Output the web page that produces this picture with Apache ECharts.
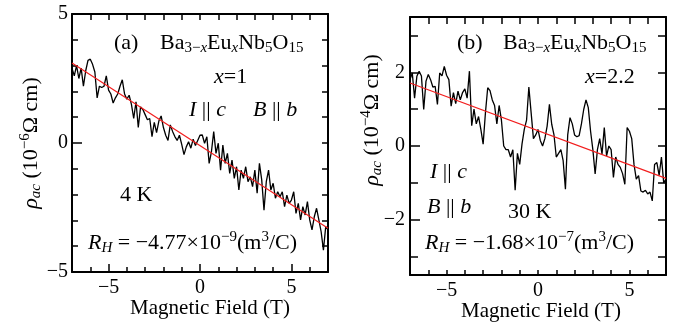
<!DOCTYPE html>
<html>
<head>
<meta charset="utf-8">
<script src="https://cdn.jsdelivr.net/npm/echarts@6/dist/echarts.min.js"></script>
<style>
  html, body { margin: 0; padding: 0; background: #fff; }
  #chart { width: 673px; height: 328px; }
</style>
</head>
<body>
<div id="chart"></div>
<script>
// magnetic field sweep (T), shared by both panels
const field = [
  -7, -6.875, -6.75, -6.625, -6.5, -6.375, -6.25, -6.125,
  -6, -5.875, -5.75, -5.625, -5.5, -5.375, -5.25, -5.125,
  -5, -4.875, -4.75, -4.625, -4.5, -4.375, -4.25, -4.125,
  -4, -3.875, -3.75, -3.625, -3.5, -3.375, -3.25, -3.125,
  -3, -2.875, -2.75, -2.625, -2.5, -2.375, -2.25, -2.125,
  -2, -1.875, -1.75, -1.625, -1.5, -1.375, -1.25, -1.125,
  -1, -0.875, -0.75, -0.625, -0.5, -0.375, -0.25, -0.125,
  0, 0.125, 0.25, 0.375, 0.5, 0.625, 0.75, 0.875,
  1, 1.125, 1.25, 1.375, 1.5, 1.625, 1.75, 1.875,
  2, 2.125, 2.25, 2.375, 2.5, 2.625, 2.75, 2.875,
  3, 3.125, 3.25, 3.375, 3.5, 3.625, 3.75, 3.875,
  4, 4.125, 4.25, 4.375, 4.5, 4.625, 4.75, 4.875,
  5, 5.125, 5.25, 5.375, 5.5, 5.625, 5.75, 5.875,
  6, 6.125, 6.25, 6.375, 6.5, 6.625, 6.75, 6.875,
  7
]

// (a) x=1, 4 K, rho_ac in 1e-6 ohm cm
const rhoA = [
  2.9, 2.6, 3.0, 2.5, 2.9, 2.2, 2.8, 3.2,
  3.25, 3.05, 2.75, 1.75, 2.2, 2.15, 2.2, 2.6,
  2.05, 1.9, 1.55, 1.75, 1.9, 2.2, 2.45, 1.9,
  1.7, 1.85, 1.5, 0.95, 1.6, 0.6, 1.4, 1.3,
  1.1, 0.9, 0.95, 0.25, 0.8, 0.4, 0.85, 1.05,
  0.6, 0.3, 0.1, 0.7, 0.45, 0.25, 0.1, 0.3,
  -0.05, -0.45, -0.15, 0.05, -0.2, 0.15, -0.1, 0.1,
  0.3, 0.31, -0.01, 0.24, -0.79, -0.34, 0.44, -0.4,
  -0.01, -1.05, -0.08, -0.79, -0.4, -1.18, -0.66, -1.37,
  -0.92, -1.82, -1.05, -1.37, -0.92, -1.5, -1.31, -1.69,
  -1.05, -1.95, -0.79, -1.43, -2.6, -1.5, -1.05, -1.82,
  -1.56, -2.14, -1.89, -2.08, -1.89, -2.47, -2.02, -2.34,
  -2.21, -1.89, -2.73, -2.34, -2.98, -2.47, -2.79, -2.27,
  -2.98, -3.37, -2.86, -2.53, -2.98, -3.44, -4.15, -3.24,
  -3.37
]

// (b) x=2.2, 30 K, rho_ac in 1e-4 ohm cm
const rhoB = [
  1.8, 1.98, 1.3, 1.89, 2.03, 1.9, 0.99, 1.76,
  1.94, 1.8, 1.6, 1.62, 1.13, 1.98, 1.9, 2.16,
  1.92, 1.8, 1.08, 1.45, 1.15, 1.49, 1.25, 1.45,
  1.55, 1.3, 2.03, 0.55, 1.0, 0.6, 0.8, 0.45,
  0.05, 0.9, 1.58, 1.5, 1.25, 1.1, 0.6, 1.1,
  0.7, 0.0, -0.1, -0.1, -0.3, -0.1, -1.2, -0.2,
  -0.5, 0.05, 0.45, 0.7, 1.6, 0.9, 0.2, 0.3,
  0.45, 0.15, 0.0, 0.2, 0.54, 1.13, 0.59, 0.3,
  -0.3, -0.2, -0.1, -0.4, -1.17, 0.3, 0.77, 0.6,
  0.3, 0.25, 0.28, 0.6, 0.99, 1.25, 1.04, 0.4,
  -0.1, -0.76, -0.1, 0.2, -0.22, 0.5, -0.27, 0.0,
  -0.1, -0.85, -0.3, -0.5, -0.58, -0.75, -1.04, 0.5,
  0.4, 0.2, -0.5, -0.9, -0.8, -1.22, -1.25, -1.2,
  -1.3, -1.25, -1.49, -0.5, -0.45, -0.8, -0.3, -1.0,
  -0.9
]

// linear Hall fits (red)
const fitField = [-7, 7]
const fitA = [3.1, -3.3]
const fitB = [1.71, -0.88]

// ticks
const xMajor = [-5, 0, 5]
const xMinor = [-7, -6, -5, -4, -3, -2, -1, 0, 1, 2, 3, 4, 5, 6, 7]
const yMajorA = [-5, 0, 5]
const yMinorA = [-5, -4, -3, -2, -1, 0, 1, 2, 3, 4, 5]
const yMajorB = [-2, 0, 2]
const yMinorB = [-3, -2, -1, 0, 1, 2, 3]

const SERIF = 'Liberation Serif'
const minus = v => (v < 0 ? '\u2212' + Math.abs(v) : String(v))

const richText = {
  n: { fontSize: 22, fontFamily: SERIF, color: '#000', lineHeight: 26 },
  i: { fontStyle: 'italic', fontSize: 22, fontFamily: SERIF, color: '#000', lineHeight: 26 },
  sub: { fontSize: 15, fontFamily: SERIF, color: '#000', lineHeight: 15, verticalAlign: 'bottom' },
  subi: { fontSize: 15, fontStyle: 'italic', fontFamily: SERIF, color: '#000', lineHeight: 15, verticalAlign: 'bottom' },
  sup: { fontSize: 15, fontFamily: SERIF, color: '#000', lineHeight: 15, verticalAlign: 'top' },
}

function tick(len, values) {
  return { show: true, inside: true, length: len, customValues: values, lineStyle: { color: '#000', width: 1.5 } }
}

function panelAxes(g, o) {
  const line = { show: true, onZero: false, lineStyle: { color: '#000', width: 2 } }
  const noLine = { show: false, onZero: false }
  const off = { show: false }
  const base = { gridIndex: g, type: 'value', splitLine: off, animation: false }
  const xs = { ...base, min: -7, max: 7 }
  const ys = { ...base, min: o.yMin, max: o.yMax }
  const x = [
    {
      ...xs, position: 'bottom', axisLine: line, axisTick: tick(o.xMajorLen, xMajor),
      axisLabel: { customValues: xMajor, formatter: minus, color: '#000', fontSize: 20, fontFamily: SERIF, margin: 6 },
      name: 'Magnetic Field (T)', nameLocation: 'middle', nameGap: 25, nameMoveOverlap: false,
      nameTextStyle: { color: '#000', fontSize: 21, fontFamily: SERIF, lineHeight: 22, padding: o.xNamePad },
    },
    { ...xs, position: 'bottom', axisLine: noLine, axisTick: tick(o.xMinorLen, xMinor), axisLabel: off },
    { ...xs, position: 'top', axisLine: line, axisTick: tick(o.topLen, xMinor), axisLabel: off },
  ]
  const y = [
    {
      ...ys, position: 'left', axisLine: line, axisTick: tick(o.yMajorLen, o.yMajor),
      axisLabel: { customValues: o.yMajor, formatter: minus, color: '#000', fontSize: 20, fontFamily: SERIF, margin: o.yLabelMargin },
      name: o.yName, nameLocation: 'middle', nameGap: o.yNameGap, nameMoveOverlap: false,
      nameTextStyle: { color: '#000', fontSize: 22, fontFamily: SERIF, lineHeight: 26, padding: o.yNamePad, rich: richText },
    },
    { ...ys, position: 'left', axisLine: noLine, axisTick: tick(o.yMinorLen, o.yMinor), axisLabel: off },
    { ...ys, position: 'right', axisLine: line, axisTick: tick(o.rightLen, o.yMinor), axisLabel: off },
  ]
  return { x, y }
}

const axA = panelAxes(0, {
  yMin: -5, yMax: 5, yMajor: yMajorA, yMinor: yMinorA,
  xMajorLen: 8, xMinorLen: 5, topLen: 6, yMajorLen: 10, yMinorLen: 6, rightLen: 6,
  yLabelMargin: 4, yNameGap: 28, yNamePad: [0, 0, 0, 0], xNamePad: [0, 0, 0, 20],
  yName: '{i|\u03c1}{subi|ac}{n| (10}{sup|\u22126}{n|\u03a9 cm)}',
})
const axB = panelAxes(1, {
  yMin: -3.5, yMax: 3.5, yMajor: yMajorB, yMinor: yMinorB,
  xMajorLen: 5, xMinorLen: 5, topLen: 7, yMajorLen: 10, yMinorLen: 8, rightLen: 8,
  yLabelMargin: 5, yNameGap: 25, yNamePad: [0, 0, 0, 52], xNamePad: [0, 0, 0, 6],
  yName: '{i|\u03c1}{subi|ac}{n| (10}{sup|\u22124}{n|\u03a9 cm)}',
})

function label(x, y, text) {
  return {
    type: 'text', x, y, silent: true,
    style: {
      text, rich: richText, fill: '#000', fontSize: 22, fontFamily: SERIF, lineHeight: 26,
      align: 'left', verticalAlign: 'middle',
    },
  }
}

const compound = 'Ba{sub|3\u2212}{subi|x}Eu{subi|x}Nb{sub|5}O{sub|15}'

const option = {
  animation: false,
  backgroundColor: '#fff',
  textStyle: { fontFamily: SERIF, color: '#000' },
  grid: [
    { left: 72, top: 14, width: 256, height: 258, outerBoundsMode: 'none' },
    { left: 410, top: 17, width: 256, height: 258, outerBoundsMode: 'none' },
  ],
  xAxis: [...axA.x, ...axB.x],
  yAxis: [...axA.y, ...axB.y],
  series: [
    {
      type: 'line', xAxisIndex: 0, yAxisIndex: 0, symbol: 'none', z: 2,
      data: field.map((b, i) => [b, rhoA[i]]),
      lineStyle: { color: '#000', width: 1.3 },
    },
    {
      type: 'line', xAxisIndex: 0, yAxisIndex: 0, symbol: 'none', z: 3,
      data: fitField.map((b, i) => [b, fitA[i]]),
      lineStyle: { color: '#f21d1d', width: 1.2 },
    },
    {
      type: 'line', xAxisIndex: 3, yAxisIndex: 3, symbol: 'none', z: 2,
      data: field.map((b, i) => [b, rhoB[i]]),
      lineStyle: { color: '#000', width: 1.3 },
    },
    {
      type: 'line', xAxisIndex: 3, yAxisIndex: 3, symbol: 'none', z: 3,
      data: fitField.map((b, i) => [b, fitB[i]]),
      lineStyle: { color: '#f21d1d', width: 1.2 },
    },
  ],
  graphic: [
    label(114, 43, '(a)'),
    label(160, 43, compound),
    label(214, 77, '{i|x}=1'),
    label(189, 110, '{i|I} || {i|c}'),
    label(253, 110, '{i|B} || {i|b}'),
    label(120, 195, '4 K'),
    label(88, 243, '{i|R}{subi|H} = \u22124.77\u00d710{sup|\u22129}(m{sup|3}/C)'),
    label(457, 43, '(b)'),
    label(503, 43, compound),
    label(585, 77, '{i|x}=2.2'),
    label(430, 172, '{i|I} || {i|c}'),
    label(427, 207, '{i|B} || {i|b}'),
    label(508, 212, '30 K'),
    label(425, 243, '{i|R}{subi|H} = \u22121.68\u00d710{sup|\u22127}(m{sup|3}/C)'),
  ],
}

const chart = echarts.init(document.getElementById('chart'), null, { renderer: 'canvas' })
chart.setOption(option)
</script>
</body>
</html>
